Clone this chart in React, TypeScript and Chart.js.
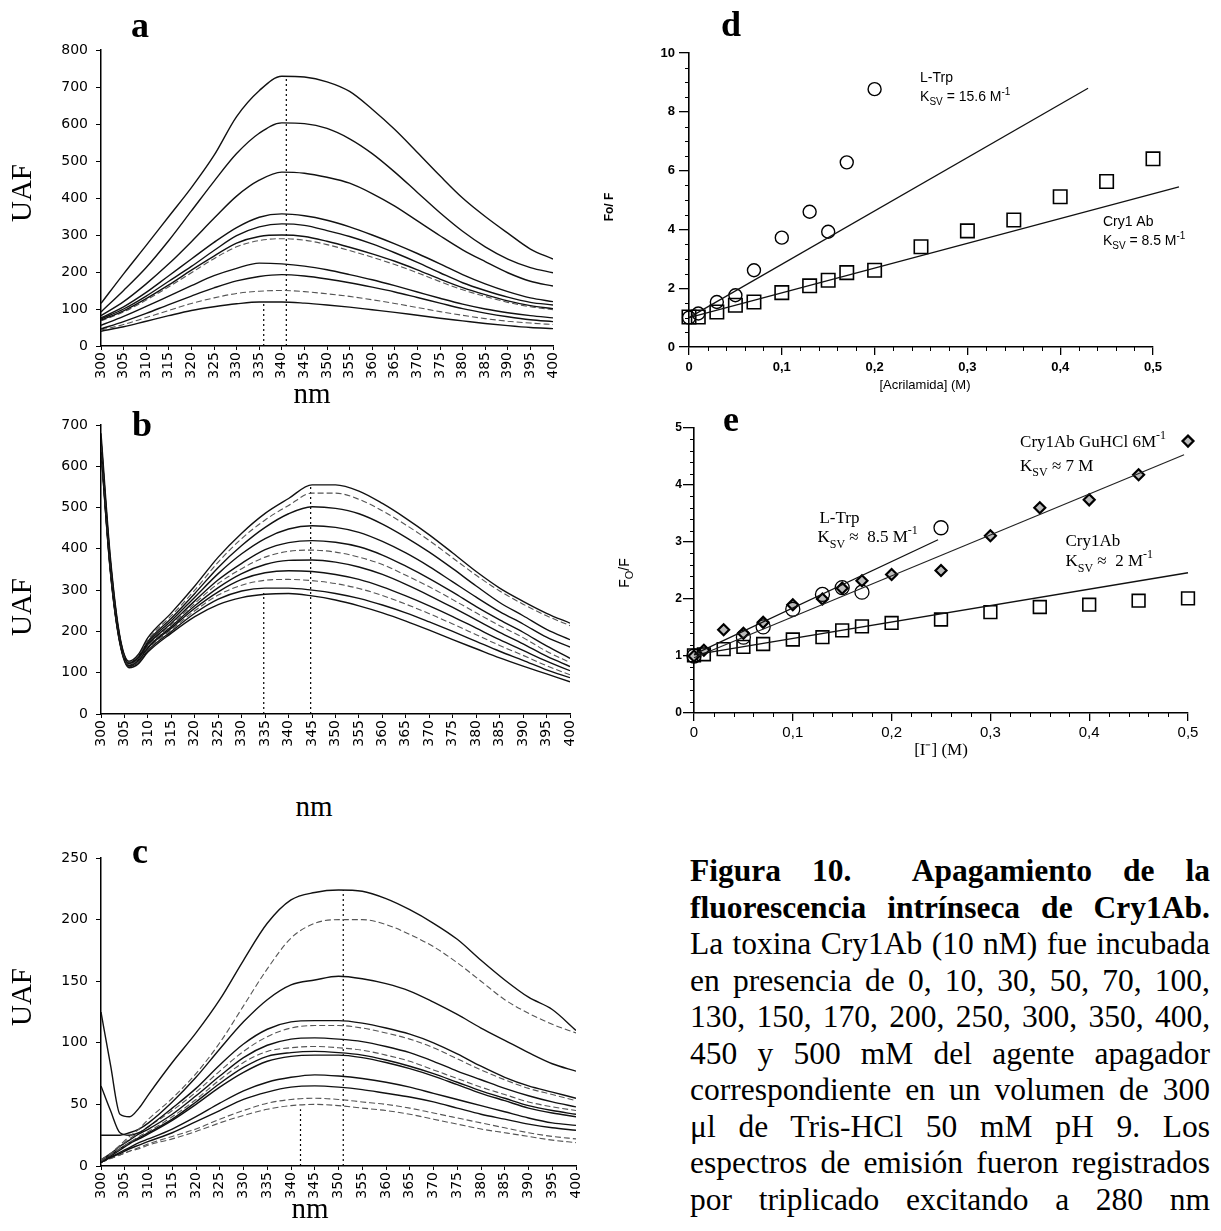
import React, { useEffect, useRef } from 'react';
import { Chart, registerables } from 'chart.js';
Chart.register(...registerables);

const SERIF = '"Liberation Serif", "Times New Roman", serif';
const SANS = '"DejaVu Sans", sans-serif';
const ARIAL = '"Liberation Sans", Arial, sans-serif';
const NARROW = '"Liberation Sans Narrow", "Liberation Sans", sans-serif';

// ---------- Panel a ----------
const WL_A = [300, 305, 310, 315, 320, 325, 330, 335, 340, 345, 350, 355, 360, 365, 370, 375, 380, 385, 390, 395, 400];
const A1 = [115, 195, 272, 350, 428, 515, 620, 690, 729, 727, 714, 688, 640, 585, 523, 460, 400, 350, 305, 262, 235];
const A2 = [92, 150, 212, 285, 365, 445, 520, 575, 603, 601, 588, 560, 520, 470, 415, 360, 310, 268, 235, 212, 198];
const A3 = [82, 120, 168, 222, 282, 345, 405, 448, 470, 467, 456, 440, 412, 378, 338, 298, 260, 228, 198, 175, 162];
const A4 = [76, 106, 145, 190, 235, 280, 320, 348, 357, 352, 340, 322, 300, 276, 250, 222, 193, 168, 147, 130, 120];
const A5 = [73, 100, 135, 175, 215, 258, 298, 322, 330, 326, 312, 296, 276, 252, 226, 198, 171, 150, 132, 118, 111];
const A6 = [70, 95, 128, 165, 205, 243, 278, 296, 300, 296, 283, 267, 249, 229, 206, 181, 158, 139, 122, 109, 101];
const A7 = [68, 92, 124, 160, 198, 236, 268, 285, 290, 286, 274, 258, 240, 220, 198, 174, 152, 134, 118, 106, 98];
const A8 = [56, 80, 107, 135, 163, 190, 210, 224, 222, 216, 206, 193, 179, 163, 146, 129, 113, 100, 90, 82, 76];
const A9 = [46, 66, 88, 112, 135, 157, 176, 188, 193, 189, 181, 171, 159, 146, 131, 116, 101, 89, 79, 71, 66];
const A10 = [43, 58, 77, 96, 115, 130, 142, 148, 150, 147, 141, 134, 125, 115, 104, 93, 83, 74, 67, 62, 58];
const A11 = [40, 52, 67, 82, 96, 106, 114, 119, 119, 116, 111, 105, 98, 91, 83, 75, 68, 61, 55, 50, 47];
const A_SERIES = [A1, A2, A3, A4, A5, A6, A7, A8, A9, A10, A11];
const A_DASHED = [false, false, false, false, false, false, true, false, false, true, false];
const A_VLINES = [{ x: 341, top: 729 }, { x: 336, top: 119 }];

// ---------- Panel b ----------
const WL_B = [300, 302, 304, 306, 308, 310, 315, 320, 325, 330, 335, 340, 345, 350, 355, 360, 365, 370, 375, 380, 385, 390, 395, 400];
const B1 = [680, 380, 190, 128, 145, 185, 245, 310, 380, 438, 486, 522, 555, 555, 540, 510, 474, 434, 390, 345, 305, 273, 244, 220];
const B2 = [670, 375, 188, 126, 142, 180, 238, 300, 368, 425, 470, 505, 535, 535, 520, 492, 458, 420, 378, 336, 298, 266, 238, 214];
const B3 = [665, 370, 186, 125, 140, 176, 232, 292, 355, 408, 452, 485, 502, 498, 485, 460, 428, 392, 352, 310, 270, 238, 205, 180];
const B4 = [660, 365, 184, 124, 138, 172, 226, 283, 340, 388, 425, 448, 456, 452, 440, 418, 390, 357, 320, 283, 248, 218, 186, 162];
const B5 = [655, 360, 182, 122, 136, 168, 220, 274, 325, 365, 398, 415, 420, 416, 405, 385, 358, 328, 295, 260, 228, 198, 165, 135];
const B6 = [650, 355, 180, 120, 134, 165, 216, 268, 316, 352, 380, 394, 397, 392, 380, 362, 336, 308, 277, 245, 214, 185, 152, 125];
const B7 = [648, 352, 178, 118, 132, 162, 212, 262, 306, 340, 362, 372, 373, 368, 356, 338, 314, 287, 258, 228, 198, 170, 140, 115];
const B8 = [645, 350, 176, 117, 130, 160, 208, 256, 296, 326, 342, 347, 345, 338, 326, 308, 286, 262, 236, 208, 180, 154, 128, 105];
const B9 = [642, 348, 175, 116, 128, 157, 204, 250, 288, 312, 324, 326, 323, 316, 304, 287, 266, 243, 218, 192, 166, 142, 117, 95];
const B10 = [640, 346, 174, 115, 126, 154, 200, 244, 278, 298, 305, 305, 300, 292, 280, 264, 245, 223, 200, 176, 152, 130, 107, 88];
const B11 = [638, 344, 172, 112, 122, 150, 196, 236, 265, 282, 290, 292, 286, 276, 262, 245, 225, 203, 180, 158, 136, 116, 97, 78];
const B_SERIES = [B1, B2, B3, B4, B5, B6, B7, B8, B9, B10, B11];
const B_DASHED = [false, true, false, false, false, true, false, false, true, false, false];
const B_VLINES = [{ x: 344.7, top: 557 }, { x: 334.7, top: 293 }];

// ---------- Panel c ----------
const WL_C = [300, 302, 304, 306, 308, 310, 315, 320, 325, 330, 335, 340, 345, 350, 355, 360, 365, 370, 375, 380, 385, 390, 395, 400];
const C1 = [125, 82, 42, 40, 47, 58, 84, 108, 135, 167, 197, 216, 222, 224, 223, 217, 208, 197, 184, 167, 151, 137, 127, 110];
const C2 = [5, 10, 17, 24, 30, 38, 55, 75, 100, 130, 160, 185, 197, 200, 200, 196, 188, 178, 165, 150, 135, 124, 115, 108];
const C3 = [25, 25, 25, 27, 30, 35, 52, 72, 95, 117, 135, 147, 151, 154, 152, 148, 142, 133, 123, 112, 102, 92, 83, 77];
const C4 = [65, 45, 27, 25, 27, 32, 47, 63, 82, 99, 111, 117, 118, 118, 116, 112, 107, 100, 91, 81, 72, 65, 60, 55];
const C5 = [5, 10, 16, 22, 27, 32, 45, 60, 77, 93, 105, 112, 114, 114, 112, 108, 103, 96, 87, 78, 70, 63, 58, 53];
const C6 = [5, 10, 16, 21, 26, 30, 42, 57, 73, 88, 98, 103, 104, 103, 101, 97, 92, 85, 77, 70, 63, 57, 52, 48];
const C7 = [4, 9, 14, 19, 24, 28, 40, 54, 70, 84, 93, 96, 97, 96, 94, 90, 85, 78, 71, 64, 58, 52, 48, 45];
const C8 = [4, 9, 14, 19, 23, 27, 38, 52, 67, 80, 89, 92, 93, 92, 90, 86, 81, 75, 68, 61, 55, 49, 45, 42];
const C9 = [3, 8, 13, 18, 22, 26, 37, 50, 64, 76, 85, 89, 90, 90, 88, 84, 79, 73, 66, 59, 53, 47, 43, 40];
const C10 = [3, 7, 11, 15, 19, 22, 30, 40, 51, 61, 68, 72, 74, 73, 71, 68, 64, 59, 54, 49, 44, 39, 35, 33];
const C11 = [3, 7, 10, 14, 17, 20, 27, 36, 45, 54, 60, 64, 65, 64, 62, 59, 56, 52, 47, 42, 38, 34, 31, 29];
const C12 = [3, 6, 9, 12, 15, 18, 24, 30, 38, 45, 51, 54, 55, 54, 52, 50, 47, 43, 39, 35, 31, 27, 24, 22];
const C13 = [3, 6, 9, 12, 14, 17, 22, 28, 35, 41, 46, 49, 50, 49, 47, 45, 42, 38, 34, 30, 27, 24, 21, 19];
const C_SERIES = [C1, C2, C3, C4, C5, C6, C7, C8, C9, C10, C11, C12, C13];
const C_DASHED = [false, true, false, false, true, false, true, false, false, false, false, true, true];
const C_VLINES = [{ x: 351, top: 224 }, { x: 342, top: 46 }];

// ---------- Panel d (acrilamida) ----------
const D_X = [0, 0.01, 0.03, 0.05, 0.07, 0.1, 0.13, 0.15, 0.17, 0.2, 0.25, 0.3, 0.35, 0.4, 0.45, 0.5];
const D_CRY = [1.02, 1.02, 1.19, 1.42, 1.53, 1.85, 2.08, 2.27, 2.53, 2.61, 3.41, 3.95, 4.32, 5.11, 5.63, 6.4];
const D_TRP_X = [0, 0.01, 0.03, 0.05, 0.07, 0.1, 0.13, 0.15, 0.17, 0.2];
const D_TRP = [1.0, 1.14, 1.53, 1.76, 2.61, 3.72, 4.6, 3.92, 6.28, 8.77];
const D_FIT_TRP_X = [0, 0.43];
const D_FIT_TRP_Y = [1.0, 8.8];
const D_FIT_CRY_X = [0, 0.528];
const D_FIT_CRY_Y = [1.0, 5.45];

// ---------- Panel e (yoduro) ----------
const E_X = [0, 0.01, 0.03, 0.05, 0.07, 0.1, 0.13, 0.15, 0.17, 0.2, 0.25, 0.3, 0.35, 0.4, 0.45, 0.5];
const E_CRY = [1.01, 1.03, 1.12, 1.16, 1.21, 1.29, 1.33, 1.45, 1.52, 1.58, 1.64, 1.77, 1.86, 1.9, 1.97, 2.01];
const E_GU = [1.0, 1.1, 1.46, 1.4, 1.59, 1.9, 2.0, 2.19, 2.32, 2.43, 2.5, 3.11, 3.6, 3.74, 4.18, 4.77];
const E_TRP_X = [0, 0.05, 0.07, 0.1, 0.13, 0.15, 0.17, 0.25];
const E_TRP = [1.0, 1.33, 1.51, 1.82, 2.08, 2.2, 2.12, 3.25];
const E_FIT_CRY_X = [0, 0.5];
const E_FIT_CRY_Y = [1.02, 2.46];
const E_FIT_GU_X = [0, 0.496];
const E_FIT_GU_Y = [0.97, 4.53];
const E_FIT_TRP_X = [0, 0.247];
const E_FIT_TRP_Y = [1.03, 3.04];

const CAPTION_BOLD = ['Figura 10.  Apagamiento de la', 'fluorescencia intrínseca de Cry1Ab.'];
const CAPTION = [
  'La toxina Cry1Ab (10 nM) fue incubada',
  'en presencia de 0, 10, 30, 50, 70, 100,',
  '130, 150, 170, 200, 250, 300, 350, 400,',
  '450 y 500 mM del agente apagador',
  'correspondiente en un volumen de 300',
  'μl de Tris-HCl 50 mM pH 9.  Los',
  'espectros de emisión fueron registrados',
  'por triplicado excitando a 280 nm',
];

type Part = { t: string; f: string; dy?: number };
type Note = { x: number; y: number; parts: Part[] };

function drawRich(ctx: CanvasRenderingContext2D, x: number, y: number, parts: Part[]) {
  let cx = x;
  for (const p of parts) {
    ctx.font = p.f;
    ctx.fillText(p.t, cx, y + (p.dy || 0));
    cx += ctx.measureText(p.t).width;
  }
}

const pts = (xs: number[], ys: number[]) => xs.map((x, i) => ({ x, y: ys[i] }));

function decorPlugin(minorX: number[], minorY: number[], minorLen: number, notes: Note[]) {
  return {
    id: 'decor',
    afterDraw(chart: any) {
      const ctx: CanvasRenderingContext2D = chart.ctx;
      const x = chart.scales.x;
      const y = chart.scales.y;
      ctx.save();
      ctx.strokeStyle = '#000';
      ctx.lineWidth = 1;
      ctx.beginPath();
      minorX.forEach((v) => {
        const px = Math.round(x.getPixelForValue(v)) + 0.5;
        ctx.moveTo(px, y.bottom);
        ctx.lineTo(px, y.bottom + minorLen);
      });
      minorY.forEach((v) => {
        const py = Math.round(y.getPixelForValue(v)) + 0.5;
        ctx.moveTo(x.left, py);
        ctx.lineTo(x.left - minorLen, py);
      });
      ctx.stroke();
      ctx.fillStyle = '#000';
      ctx.textBaseline = 'middle';
      ctx.textAlign = 'left';
      notes.forEach((n) => drawRich(ctx, x.getPixelForValue(n.x), y.getPixelForValue(n.y), n.parts));
      ctx.restore();
    },
  };
}

function ChartCanvas({ left, top, width, height, make }: { left: number; top: number; width: number; height: number; make: () => any }) {
  const ref = useRef<HTMLCanvasElement | null>(null);
  useEffect(() => {
    if (!ref.current) return;
    const chart = new Chart(ref.current, make());
    return () => chart.destroy();
  }, []);
  return (
    <canvas
      ref={ref}
      width={width}
      height={height}
      style={{ position: 'absolute', left, top, width, height }}
    />
  );
}

function spectrumConfig(
  wl: number[], series: number[][], dashed: boolean[], vlines: { x: number; top: number }[],
  yMax: number, yStep: number, padTop: number, padRight: number, yWidth: number, xHeight: number,
) {
  const datasets: any[] = series.map((s, i) => ({
    data: pts(wl, s),
    borderColor: dashed[i] ? '#555' : '#111',
    borderWidth: dashed[i] ? 1.1 : 1.4,
    borderDash: dashed[i] ? [6, 3] : [],
    pointRadius: 0,
    tension: 0.4,
    cubicInterpolationMode: 'monotone',
    fill: false,
  }));
  vlines.forEach((v) => {
    datasets.push({
      data: [{ x: v.x, y: 0 }, { x: v.x, y: v.top }],
      borderColor: '#000',
      borderWidth: 1.2,
      borderDash: [2, 3],
      pointRadius: 0,
      tension: 0,
      fill: false,
    });
  });
  return {
    type: 'line',
    data: { datasets },
    options: {
      responsive: false,
      animation: false,
      devicePixelRatio: 1,
      events: [],
      layout: { padding: { left: 0, top: padTop, right: padRight, bottom: 0 }, autoPadding: false },
      plugins: { legend: { display: false }, tooltip: { enabled: false } },
      scales: {
        x: {
          type: 'linear', min: 300, max: 400,
          grid: { drawOnChartArea: false, tickLength: 4, color: '#000', lineWidth: 1 },
          border: { color: '#000', width: 1.5 },
          ticks: {
            stepSize: 5, autoSkip: false, minRotation: 90, maxRotation: 90, padding: 2,
            color: '#000', font: { family: SANS, size: 14 },
            callback: (v: any) => String(v),
          },
          afterFit: (s: any) => { s.height = xHeight; },
        },
        y: {
          min: 0, max: yMax,
          grid: { drawOnChartArea: false, tickLength: 5, color: '#000', lineWidth: 1 },
          border: { color: '#000', width: 1.5 },
          ticks: { stepSize: yStep, padding: 8, color: '#000', font: { family: SANS, size: 14 } },
          afterFit: (s: any) => { s.width = yWidth; },
        },
      },
    },
  };
}

const comma = (v: any) => (Number(v) === 0 ? '0' : Number(v).toFixed(1).replace('.', ','));

function rangeVals(a: number, b: number, step: number, skipEvery: number) {
  const out: number[] = [];
  const n = Math.round((b - a) / step);
  for (let i = 0; i <= n; i++) if (i % skipEvery !== 0) out.push(+(a + i * step).toFixed(4));
  return out;
}

function makeD() {
  const fN = `14px ${NARROW}`;
  const fS = `10px ${NARROW}`;
  const notes: Note[] = [
    { x: 0.249, y: 9.15, parts: [{ t: 'L-Trp', f: fN }] },
    { x: 0.249, y: 8.5, parts: [{ t: 'K', f: fN }, { t: 'SV', f: fS, dy: 5 }, { t: ' = 15.6 M', f: fN }, { t: '-1', f: fS, dy: -5 }] },
    { x: 0.446, y: 4.26, parts: [{ t: 'Cry1 Ab', f: fN }] },
    { x: 0.446, y: 3.6, parts: [{ t: 'K', f: fN }, { t: 'SV', f: fS, dy: 5 }, { t: ' = 8.5 M', f: fN }, { t: '-1', f: fS, dy: -5 }] },
  ];
  return {
    type: 'scatter',
    data: {
      datasets: [
        { data: pts(D_FIT_TRP_X, D_FIT_TRP_Y), showLine: true, pointRadius: 0, borderColor: '#111', borderWidth: 1.3, clip: false },
        { data: pts(D_FIT_CRY_X, D_FIT_CRY_Y), showLine: true, pointRadius: 0, borderColor: '#111', borderWidth: 1.3, clip: false },
        { data: pts(D_X, D_CRY), pointStyle: 'rect', pointRadius: 9.5, borderColor: '#000', borderWidth: 1.6, backgroundColor: 'rgba(255,255,255,0)', clip: false },
        { data: pts(D_TRP_X, D_TRP), pointStyle: 'circle', pointRadius: 6.5, borderColor: '#000', borderWidth: 1.4, backgroundColor: 'rgba(255,255,255,0)', clip: false },
      ],
    },
    options: {
      responsive: false, animation: false, devicePixelRatio: 1, events: [],
      layout: { padding: { left: 0, top: 23, right: 68, bottom: 0 }, autoPadding: false },
      plugins: { legend: { display: false }, tooltip: { enabled: false } },
      scales: {
        x: {
          type: 'linear', min: 0, max: 0.5,
          grid: { drawOnChartArea: false, tickLength: 8, color: '#000', lineWidth: 1.3 },
          border: { color: '#000', width: 1.6 },
          ticks: { stepSize: 0.1, padding: 5, maxRotation: 0, color: '#000', font: { family: ARIAL, size: 13, weight: 'bold' }, callback: comma },
          afterFit: (s: any) => { s.height = 33; },
        },
        y: {
          min: 0, max: 10,
          grid: { drawOnChartArea: false, tickLength: 10, color: '#000', lineWidth: 1.3 },
          border: { color: '#000', width: 1.6 },
          ticks: { stepSize: 2, padding: 4, color: '#000', font: { family: ARIAL, size: 13, weight: 'bold' } },
          afterFit: (s: any) => { s.width = 49; },
        },
      },
    },
    plugins: [decorPlugin(rangeVals(0, 0.5, 0.02, 5), rangeVals(0, 10, 0.5, 4), 4, notes)],
  };
}

function makeE() {
  const fT = `17px ${SERIF}`;
  const fs = `12px ${SERIF}`;
  const notes: Note[] = [
    { x: 0.33, y: 4.74, parts: [{ t: 'Cry1Ab GuHCl 6M', f: fT }, { t: '-1', f: fs, dy: -7 }] },
    { x: 0.33, y: 4.33, parts: [{ t: 'K', f: fT }, { t: 'SV', f: fs, dy: 7 }, { t: ' ≈ 7 M', f: fT }] },
    { x: 0.127, y: 3.42, parts: [{ t: 'L-Trp', f: fT }] },
    { x: 0.125, y: 3.07, parts: [{ t: 'K', f: fT }, { t: 'SV', f: fs, dy: 7 }, { t: ' ≈  8.5 M', f: fT }, { t: '-1', f: fs, dy: -7 }] },
    { x: 0.376, y: 3.01, parts: [{ t: 'Cry1Ab', f: fT }] },
    { x: 0.376, y: 2.66, parts: [{ t: 'K', f: fT }, { t: 'SV', f: fs, dy: 7 }, { t: ' ≈  2 M', f: fT }, { t: '-1', f: fs, dy: -7 }] },
  ];
  return {
    type: 'scatter',
    data: {
      datasets: [
        { data: pts(E_FIT_CRY_X, E_FIT_CRY_Y), showLine: true, pointRadius: 0, borderColor: '#111', borderWidth: 1.4, clip: false },
        { data: pts(E_FIT_GU_X, E_FIT_GU_Y), showLine: true, pointRadius: 0, borderColor: '#222', borderWidth: 1.2, clip: false },
        { data: pts(E_FIT_TRP_X, E_FIT_TRP_Y), showLine: true, pointRadius: 0, borderColor: '#111', borderWidth: 1.3, clip: false },
        { data: pts(E_X, E_CRY), pointStyle: 'rect', pointRadius: 9, borderColor: '#000', borderWidth: 1.6, backgroundColor: 'rgba(255,255,255,0)', clip: false },
        { data: pts(E_TRP_X, E_TRP), pointStyle: 'circle', pointRadius: 7, borderColor: '#000', borderWidth: 1.3, backgroundColor: 'rgba(255,255,255,0)', clip: false },
        { data: pts(E_X, E_GU), pointStyle: 'rectRot', pointRadius: 5.5, borderColor: '#000', borderWidth: 2.2, backgroundColor: '#bbb', clip: false },
      ],
    },
    options: {
      responsive: false, animation: false, devicePixelRatio: 1, events: [],
      layout: { padding: { left: 0, top: 23, right: 33, bottom: 0 }, autoPadding: false },
      plugins: { legend: { display: false }, tooltip: { enabled: false } },
      scales: {
        x: {
          type: 'linear', min: 0, max: 0.5,
          grid: { drawOnChartArea: false, tickLength: 8, color: '#000', lineWidth: 1.3 },
          border: { color: '#000', width: 1.6 },
          ticks: { stepSize: 0.1, padding: 3, maxRotation: 0, color: '#000', font: { family: ARIAL, size: 15 }, callback: comma },
          afterFit: (s: any) => { s.height = 32; },
        },
        y: {
          min: 0, max: 5,
          grid: { drawOnChartArea: false, tickLength: 11, color: '#000', lineWidth: 1.3 },
          border: { color: '#000', width: 1.6 },
          ticks: { stepSize: 1, padding: 1, color: '#000', font: { family: ARIAL, size: 12, weight: 'bold' } },
          afterFit: (s: any) => { s.width = 54; },
        },
      },
    },
    plugins: [decorPlugin(rangeVals(0, 0.5, 0.02, 5), rangeVals(0, 5, 0.2, 5), 4, notes)],
  };
}

const abs = (left: number, top: number, extra: React.CSSProperties = {}): React.CSSProperties => ({
  position: 'absolute', left, top, whiteSpace: 'nowrap', ...extra,
});

function Letter({ ch, cx, cy }: { ch: string; cx: number; cy: number }) {
  return (
    <div style={abs(cx - 30, cy - 20, { width: 60, height: 40, lineHeight: '40px', textAlign: 'center', font: `bold 36px ${SERIF}`, color: '#000' })}>{ch}</div>
  );
}

function VTitle({ text, cx, cy, font }: { text: React.ReactNode; cx: number; cy: number; font: string }) {
  return (
    <div style={abs(cx - 100, cy - 20, { width: 200, height: 40, lineHeight: '40px', textAlign: 'center', font, transform: 'rotate(-90deg)', color: '#000' })}>{text}</div>
  );
}

function HTitle({ text, cx, cy, font }: { text: React.ReactNode; cx: number; cy: number; font: string }) {
  return (
    <div style={abs(cx - 150, cy - 20, { width: 300, height: 40, lineHeight: '40px', textAlign: 'center', font, color: '#000' })}>{text}</div>
  );
}

export default function App() {
  const uafFont = `29px ${SERIF}`;
  return (
    <div style={{ position: 'absolute', left: 0, top: 0, width: 1221, height: 1231, background: '#fff', overflow: 'hidden' }}>
      <ChartCanvas left={40} top={30} width={545} height={360}
        make={() => spectrumConfig(WL_A, A_SERIES, A_DASHED, A_VLINES, 800, 100, 20, 32, 61, 44)} />
      <ChartCanvas left={40} top={405} width={560} height={350}
        make={() => spectrumConfig(WL_B, B_SERIES, B_DASHED, B_VLINES, 700, 100, 20, 30, 61, 41)} />
      <ChartCanvas left={40} top={838} width={566} height={370}
        make={() => spectrumConfig(WL_C, C_SERIES, C_DASHED, C_VLINES, 250, 50, 20, 30, 61, 42)} />
      <ChartCanvas left={640} top={30} width={581} height={350} make={makeD} />
      <ChartCanvas left={640} top={405} width={581} height={340} make={makeE} />

      <Letter ch="a" cx={140} cy={24} />
      <Letter ch="b" cx={142} cy={423} />
      <Letter ch="c" cx={140} cy={850} />
      <Letter ch="d" cx={731} cy={23} />
      <Letter ch="e" cx={731} cy={418} />

      <VTitle text="UAF" cx={25} cy={193} font={uafFont} />
      <VTitle text="UAF" cx={25} cy={607} font={uafFont} />
      <VTitle text="UAF" cx={25} cy={997} font={uafFont} />
      <HTitle text="nm" cx={312} cy={397} font={uafFont} />
      <HTitle text="nm" cx={314} cy={810} font={uafFont} />
      <HTitle text="nm" cx={310} cy={1212} font={uafFont} />

      <VTitle text="Fo/ F" cx={622} cy={207} font={`bold 12px ${ARIAL}`} />
      <HTitle text="[Acrilamida] (M)" cx={925} cy={397} font={`13px ${NARROW}`} />
      <VTitle text={<span>F<sub style={{ fontSize: 11 }}>O</sub>/F</span>} cx={636} cy={573} font={`14px ${ARIAL}`} />
      <HTitle text="[I⁻] (M)" cx={941} cy={757} font={`17px ${SERIF}`} />

      <div style={abs(690, 853, { width: 520, font: `31.5px ${SERIF}`, lineHeight: '36.5px', color: '#000' })}>
        {CAPTION_BOLD.map((l, i) => (
          <div key={'b' + i} style={{ fontWeight: 'bold', textAlign: 'justify', textAlignLast: 'justify', whiteSpace: 'pre' }}>{l}</div>
        ))}
        {CAPTION.map((l, i) => (
          <div key={'n' + i} style={{ textAlign: 'justify', textAlignLast: 'justify' }}>{l}</div>
        ))}
      </div>
    </div>
  );
}
